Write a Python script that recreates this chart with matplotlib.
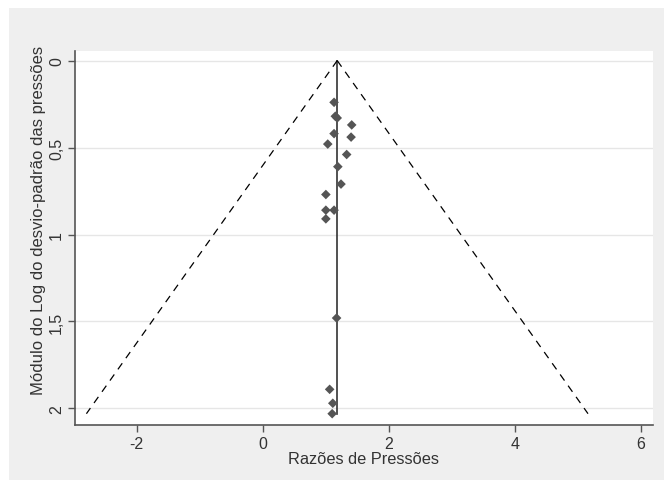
import numpy as np
import matplotlib as mpl
mpl.use('agg')
import matplotlib.pyplot as plt
from matplotlib.patches import Rectangle

# Study estimates (ratio) and |log sd|
ratio = [1.13, 1.15, 1.18, 1.41, 1.13, 1.40, 1.03, 1.33, 1.19, 1.24,
         1.00, 1.00, 1.13, 1.00, 1.17, 1.06, 1.11, 1.10]
se = [0.24, 0.32, 0.33, 0.37, 0.42, 0.44, 0.48, 0.54, 0.61, 0.71,
      0.77, 0.86, 0.86, 0.91, 1.48, 1.89, 1.97, 2.03]
pooled = 1.18

xticks = [-2, 0, 2, 4, 6]
yticks = [0, 0.5, 1, 1.5, 2]
ylabels = ['0', '0,5', '1', '1,5', '2']

plt.rcParams['font.family'] = ['Liberation Sans', 'DejaVu Sans']
plt.rcParams['axes.unicode_minus'] = False

fig = plt.figure(figsize=(6.64, 4.81), dpi=100, facecolor='white')
fig.patches.append(Rectangle((9/664, 0), 1, 1 - 9/481, transform=fig.transFigure,
                             facecolor='#efefef', edgecolor='none', zorder=-10))

ax = fig.add_axes([75/664, 1 - 426/481, (653 - 75)/664, (426 - 52)/481])
ax.set_zorder(5)
ax.set_facecolor('white')

semax = max(se)
ax.plot([pooled, pooled], [0, semax], color='#333333', lw=1.2, zorder=2)
ax.plot([pooled, pooled - 1.96*semax], [0, semax], color='black', lw=0.9,
        ls=(0, (6, 5)), zorder=2)
ax.plot([pooled, pooled + 1.96*semax], [0, semax], color='black', lw=0.9,
        ls=(0, (6, 5)), zorder=2)
ax.scatter(ratio, se, marker='D', s=24, color='#555555', edgecolor='none', zorder=3)

ax.set_xlim(-2.98, 6.19)
ax.set_ylim(2.095, -0.055)
ax.set_xticks(xticks)
ax.set_yticks(yticks)
ax.set_yticklabels(ylabels, rotation=90, va='center')
ax.yaxis.grid(True, color='#e6e6e6', lw=1.0)
ax.set_axisbelow(True)

for s in ['top', 'right']:
    ax.spines[s].set_visible(False)
for s in ['left', 'bottom']:
    ax.spines[s].set_color('#555555')
    ax.spines[s].set_linewidth(1.2)
ax.tick_params(colors='#555555', labelcolor='#333333', labelsize=11.5, length=5,
               width=1, pad=3)

ax.set_xlabel('Razões de Pressões', fontsize=11.8, color='#333333', labelpad=0)
ax.set_ylabel('Módulo do Log do desvio-padrão das pressões', fontsize=12,
              color='#333333')
ax.yaxis.set_label_coords(-0.05, 0.55)

fig.savefig('out.png', dpi=100, facecolor=fig.get_facecolor())
